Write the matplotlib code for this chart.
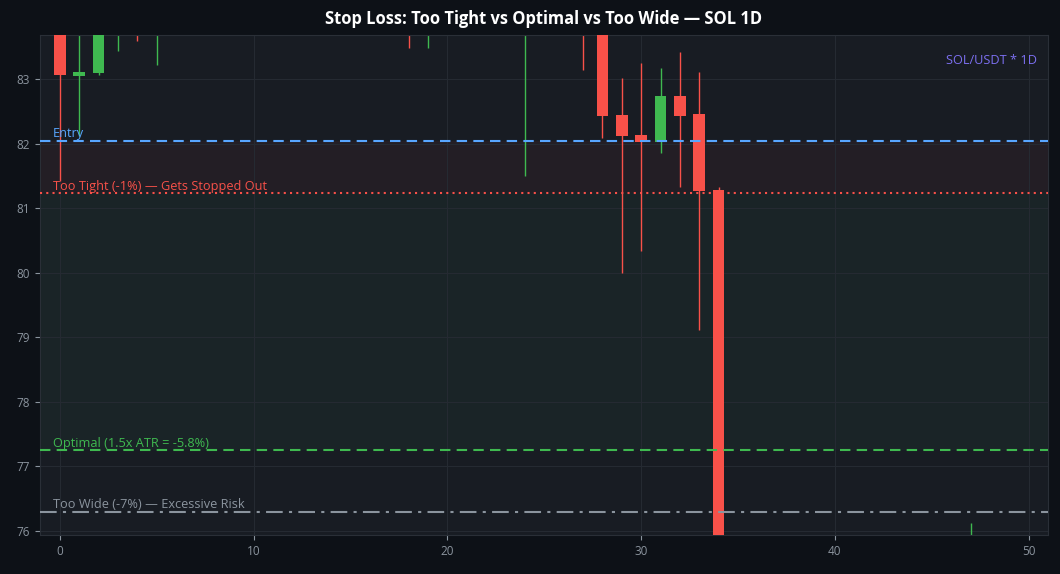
import matplotlib
matplotlib.use("Agg")
import matplotlib.pyplot as plt

# Candle data (daily SOL/USDT) ---------------------------------------------------------------------
opens  = [84.2, 83.04, 83.09, 84.3, 84.9, 84.1, 85.3, 85.9, 85.4, 86.5,
          85.8, 85.0, 85.6, 86.0, 85.3, 84.5, 84.9, 84.3, 84.7, 84.0,
          84.6, 85.2, 84.8, 84.2, 84.5, 85.1, 85.5, 84.6, 83.9, 82.44,
          82.13, 82.03, 82.74, 82.46, 81.28, 74.2, 73.5, 74.3, 75.0, 74.4,
          73.6, 74.1, 74.9, 74.6, 73.9, 74.5, 75.2, 74.7, 75.6, 74.9, 74.2]
highs  = [84.6, 84.0, 84.5, 85.1, 85.2, 85.6, 86.2, 86.4, 86.8, 87.0,
          86.1, 85.9, 86.3, 86.6, 85.7, 85.2, 85.4, 85.0, 85.1, 84.9,
          85.5, 85.8, 85.3, 84.8, 85.6, 85.9, 86.0, 85.0, 84.3, 83.02,
          83.25, 83.17, 83.42, 83.11, 81.32, 75.1, 74.6, 75.4, 75.6, 74.9,
          74.5, 75.3, 75.7, 75.2, 74.8, 75.5, 75.8, 76.12, 75.9, 75.4, 75.0]
lows   = [81.42, 82.11, 83.06, 83.44, 83.58, 83.22, 84.8, 85.0, 85.1, 85.6,
          84.7, 84.4, 85.2, 85.1, 84.2, 83.9, 84.0, 83.8, 83.48, 83.48,
          84.1, 84.5, 84.0, 83.9, 81.50, 84.6, 84.3, 83.14, 82.09, 80.00,
          80.34, 81.86, 81.33, 79.11, 73.6, 73.1, 72.8, 73.9, 74.1, 73.2,
          72.9, 73.8, 74.3, 73.7, 73.4, 74.0, 74.4, 74.3, 74.6, 73.9, 73.6]
closes = [83.06, 83.10, 84.3, 84.9, 84.1, 85.3, 85.9, 85.4, 86.5, 85.8,
          85.0, 85.6, 86.0, 85.3, 84.5, 84.9, 84.3, 84.7, 84.0, 84.6,
          85.2, 84.8, 84.2, 84.5, 85.1, 85.5, 84.6, 83.9, 82.43, 82.11,
          82.03, 82.74, 82.43, 81.27, 74.2, 73.5, 74.3, 75.0, 74.4, 73.6,
          74.1, 74.9, 74.6, 73.9, 74.5, 75.2, 74.7, 75.6, 74.9, 74.2, 74.8]

entry        = 82.04
stop_tight   = 81.23   # -1%
stop_optimal = 77.25   # 1.5x ATR
stop_wide    = 76.30   # -7%

# Colours ------------------------------------------------------------------------------------------
BG      = "#0d1117"
PANEL   = "#181c23"
UP      = "#3fb950"
DOWN    = "#f85149"
BLUE    = "#58a6ff"
GREY    = "#8b949e"
PURPLE  = "#7c6ff0"

plt.rcParams['font.family'] = ['Open Sans', 'DejaVu Sans']

fig = plt.figure(figsize=(10.6, 5.74), dpi=100, facecolor=BG)
ax = fig.add_axes([0.0377, 0.068, 0.951, 0.871])
ax.set_facecolor(PANEL)

# zones
ax.axhspan(stop_tight, entry, color="#231e25", lw=0, zorder=0)
ax.axhspan(stop_optimal, stop_tight, color="#1a2427", lw=0, zorder=0)

# candles
for i in range(len(opens)):
    o, h, l, c = opens[i], highs[i], lows[i], closes[i]
    col = UP if c >= o else DOWN
    ax.vlines(i, l, h, color=col, lw=1, zorder=2)
    ax.bar(i, max(abs(c - o), 0.05), bottom=min(o, c), width=0.6, color=col, lw=0, zorder=3)

# stop lines
ax.axhline(entry, color=BLUE, ls=(0, (5, 3)), lw=1.5, zorder=4)
ax.axhline(stop_tight, color=DOWN, ls=(0, (1, 2)), lw=1.5, zorder=4)
ax.axhline(stop_optimal, color=UP, ls=(0, (5, 3)), lw=1.5, zorder=4)
ax.axhline(stop_wide, color=GREY, ls=(0, (8, 3, 1.5, 3)), lw=1.5, zorder=4)

ax.text(-0.35, entry + 0.01, "Entry", color=BLUE, fontsize=9.2, va="bottom", zorder=5)
ax.text(-0.35, stop_tight + 0.01, "Too Tight (-1%) — Gets Stopped Out", color=DOWN, fontsize=9.2, va="bottom", zorder=5)
ax.text(-0.35, stop_optimal + 0.01, "Optimal (1.5x ATR = -5.8%)", color=UP, fontsize=9.2, va="bottom", zorder=5)
ax.text(-0.35, stop_wide + 0.01, "Too Wide (-7%) — Excessive Risk", color=GREY, fontsize=9.2, va="bottom", zorder=5)

ax.text(0.989, 0.95, "SOL/USDT * 1D", transform=ax.transAxes, color=PURPLE, fontsize=9.2,
        ha="right", va="center", zorder=5)

ax.set_title("Stop Loss: Too Tight vs Optimal vs Too Wide — SOL 1D", color="white",
             fontsize=11.9, fontweight="bold", pad=8)

ax.set_xlim(-1.03, 51.0)
ax.set_ylim(75.94, 83.68)
ax.set_xticks(range(0, 51, 10))
ax.set_yticks(range(76, 84))
ax.tick_params(colors=GREY, labelsize=8.5)
ax.grid(True, color="#262b33", lw=0.7, zorder=1)
ax.set_axisbelow(True)
for s in ax.spines.values():
    s.set_color("#2a2f37")

fig.savefig("out.png", dpi=100, facecolor=BG)
